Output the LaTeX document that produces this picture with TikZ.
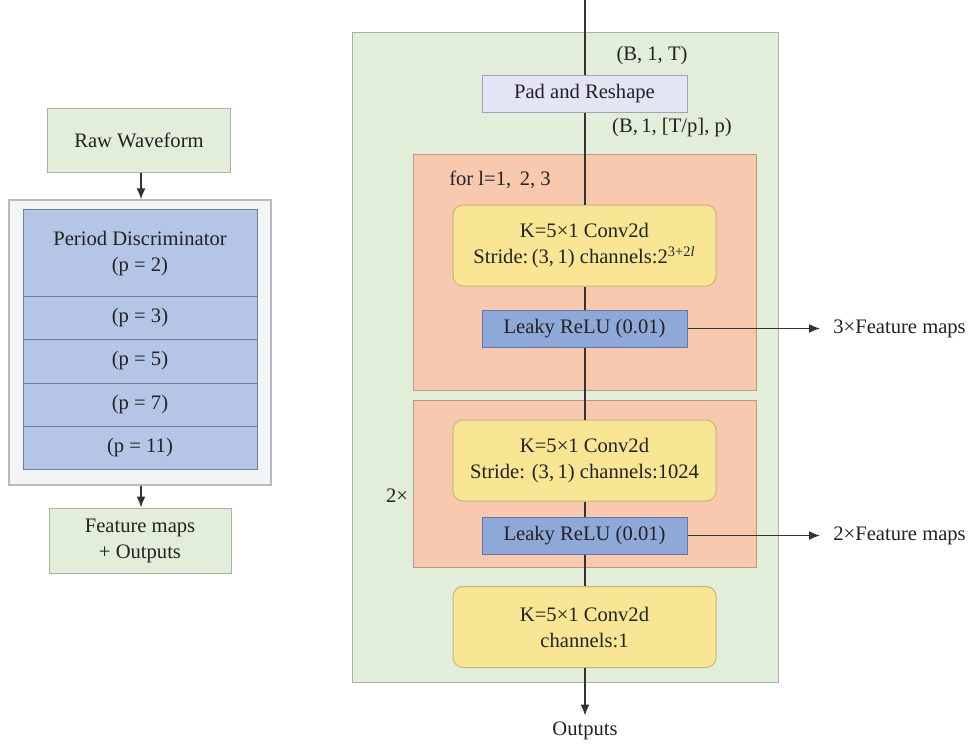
\documentclass[tikz,border=0pt]{standalone}
\usepackage{fontspec}
\setmainfont{Liberation Serif}
\usetikzlibrary{arrows.meta}
\definecolor{txt}{HTML}{222222}
\definecolor{lnc}{HTML}{333333}
\definecolor{grnf}{HTML}{E2EEDA}
\definecolor{grnd}{HTML}{A9B3A2}
\definecolor{gryf}{HTML}{F3F4F6}
\definecolor{gryd}{HTML}{B9BBBE}
\definecolor{bluf}{HTML}{B4C5E5}
\definecolor{blud}{HTML}{6F7E9E}
\definecolor{lavf}{HTML}{E3E4F4}
\definecolor{lavd}{HTML}{A3A4B3}
\definecolor{ornf}{HTML}{F8C9AE}
\definecolor{ornd}{HTML}{B89B8A}
\definecolor{ylwf}{HTML}{F9E694}
\definecolor{ylwd}{HTML}{C9B47C}
\definecolor{rluf}{HTML}{8EA8D7}
\definecolor{rlud}{HTML}{5B78B2}
\tikzset{
  every node/.style={text=txt, font=\fontsize{10.3}{13}\selectfont, inner sep=0pt},
  gbox/.style={draw=grnd, fill=grnf, line width=0.5pt, align=center},
  outerbox/.style={draw=gryd, fill=gryf, line width=0.6pt},
  prow/.style={draw=blud, fill=bluf, line width=0.5pt, minimum width=117pt, align=center},
  padbox/.style={draw=lavd, fill=lavf, line width=0.5pt, minimum width=102.5pt, minimum height=18.5pt},
  obox/.style={draw=ornd, fill=ornf, line width=0.5pt, minimum width=171.5pt},
  ybox/.style={draw=ylwd, fill=ylwf, line width=0.5pt, rounded corners=5pt, minimum width=131.5pt, minimum height=40.5pt, align=center},
  rbox/.style={draw=rlud, fill=rluf, line width=0.5pt, minimum width=102.5pt, minimum height=18.5pt},
  conn/.style={draw=lnc, line width=0.75pt},
  arr/.style={conn, -{Latex[length=5.5pt,width=4.5pt]}},
}
\begin{document}
\begin{tikzpicture}[x=0.5pt,y=-0.5pt]
\useasboundingbox (0,0) rectangle (972,744);
% ---------- left part ----------
\node[gbox, minimum width=91.5pt, minimum height=32pt] (raw) at (139,140) {Raw Waveform};
\node[outerbox, minimum width=131pt, minimum height=142.5pt] (outer) at (140,342.5) {};
\node[prow, minimum height=43.5pt, text depth=1pt] (p2) at (140,252.5) {Period Discriminator\\(p = 2)};
\node[prow, minimum height=21.5pt] (p3) at (140,317.5) {(p = 3)};
\node[prow, minimum height=22pt] (p5) at (140,361) {(p = 5)};
\node[prow, minimum height=21.5pt] (p7) at (140,404.5) {(p = 7)};
\node[prow, minimum height=21.5pt] (p11) at (140,447.5) {(p = 11)};
\node[gbox, minimum width=91pt, minimum height=32.5pt] (feat) at (140,540.5) {Feature maps\\+ Outputs};
\draw[arr] (raw.south -| 141,0) -- (outer.north -| 141,0);
\draw[arr] (outer.south -| 141,0) -- (feat.north -| 141,0);
% ---------- right part ----------
\node[gbox, minimum width=213pt, minimum height=325pt] (main) at (565,357) {};
\node[obox, minimum height=118pt] (loop1) at (584.5,272) {};
\node[obox, minimum height=83.5pt] (loop2) at (584.5,483.5) {};
\coordinate (top) at (585,0);
\node[padbox] (pad) at (584.5,93.5) {Pad and Reshape};
\node[ybox] (c1) at (584.5,245.5) {K=5×1 Conv2d\\Stride:\,(3,\,1) channels:2\textsuperscript{3+2\textit{l}}};
\node[rbox] (r1) at (584.5,328.5) {Leaky ReLU (0.01)};
\node[ybox] (c2) at (584.5,460.5) {K=5×1 Conv2d\\Stride: (3,\,1) channels:1024};
\node[rbox] (r2) at (584.5,535.5) {Leaky ReLU (0.01)};
\node[ybox] (c3) at (584.5,627) {K=5×1 Conv2d\\channels:1};
\node (out) at (585,731) {Outputs};
\node (s1) at (652,56) {(B, 1, T)};
\node (s2) at (672,128) {(B,\,1, [T/p], p)};
\node (forl) at (500,180) {for l=1,\, 2, 3};
\node (two) at (397,496) {2×};
\node[anchor=west] (f3) at (833,328.5) {3×Feature maps};
\node[anchor=west] (f2) at (833,535.5) {2×Feature maps};
\draw[conn] (top) -- (pad.north -| top);
\draw[conn] (pad.south -| top) -- (c1.north -| top);
\draw[conn] (c1.south -| top) -- (r1.north -| top);
\draw[conn] (r1.south -| top) -- (c2.north -| top);
\draw[conn] (c2.south -| top) -- (r2.north -| top);
\draw[conn] (r2.south -| top) -- (c3.north -| top);
\draw[arr, shorten >=3pt] (c3.south -| top) -- (out.north -| top);
\draw[arr] (r1.east) -- ([xshift=-6.5pt]f3.west);
\draw[arr] (r2.east) -- ([xshift=-6.5pt]f2.west);
\end{tikzpicture}
\end{document}
